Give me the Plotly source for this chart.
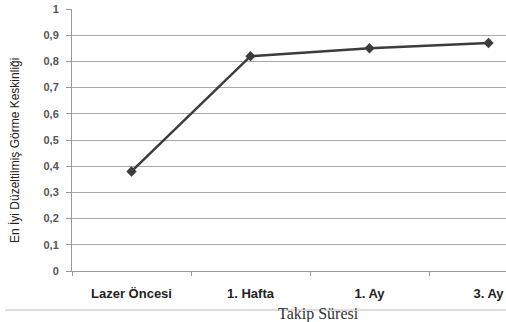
import plotly.graph_objects as go

categories = ["Lazer Öncesi", "1. Hafta", "1. Ay", "3. Ay"]
values = [0.38, 0.82, 0.85, 0.87]
y_tickvals = [0, 0.1, 0.2, 0.3, 0.4, 0.5, 0.6, 0.7, 0.8, 0.9, 1]
y_ticktext = ["0", "0,1", "0,2", "0,3", "0,4", "0,5", "0,6", "0,7", "0,8", "0,9", "1"]

fig = go.Figure()
fig.add_trace(go.Scatter(
    x=categories, y=values, mode="lines+markers",
    line=dict(color="#3c3c3c", width=2.5),
    marker=dict(symbol="diamond", size=8, color="#3c3c3c"),
    showlegend=False,
))

fig.update_layout(
    width=506, height=322,
    margin=dict(l=72, r=0, t=9, b=51),
    paper_bgcolor="white", plot_bgcolor="white",
    font=dict(family="Liberation Sans, Arial", color="#222"),
)
fig.update_xaxes(
    type="category", range=[-0.5, 3.147], automargin=False,
    tickson="boundaries", ticks="outside", ticklen=4, tickcolor="#999",
    showline=True, linecolor="#999", linewidth=1, showgrid=False,
    ticklabelstandoff=10,
    tickfont=dict(size=13, color="#222", family="Liberation Sans, Arial", weight="bold"),
)
fig.update_yaxes(
    range=[0, 1], tickvals=y_tickvals, ticktext=y_ticktext, automargin=False,
    ticks="outside", ticklen=5, tickcolor="#999",
    showline=True, linecolor="#999", linewidth=1,
    showgrid=True, gridcolor="#a8a8a8", gridwidth=1, zeroline=False,
    ticklabelstandoff=5,
    tickfont=dict(size=11, color="#555", weight="bold"),
)
fig.add_shape(type="line", xref="paper", yref="paper", x0=-0.154, x1=1, y0=-0.149, y1=-0.149,
              line=dict(color="#dddddd", width=2), layer="below")
fig.add_annotation(
    text="En İyi Düzeltilmiş Görme Keskinliği", xref="paper", yref="paper",
    x=(15 - 72) / 434, y=(271 - 151) / 262, textangle=-90, showarrow=False,
    font=dict(size=12, color="#222"), xanchor="center", yanchor="middle",
)
fig.add_annotation(
    text="Takip Süresi", xref="paper", yref="paper",
    x=(318 - 72) / 434, y=(271 - 314) / 262, showarrow=False,
    font=dict(family="Liberation Serif, Times New Roman", size=16, color="#333"),
    xanchor="center", yanchor="middle",
)
fig.write_html("out.html", config={"displayModeBar": False},
               post_script="document.body.style.margin='0';document.body.style.overflow='hidden';")
